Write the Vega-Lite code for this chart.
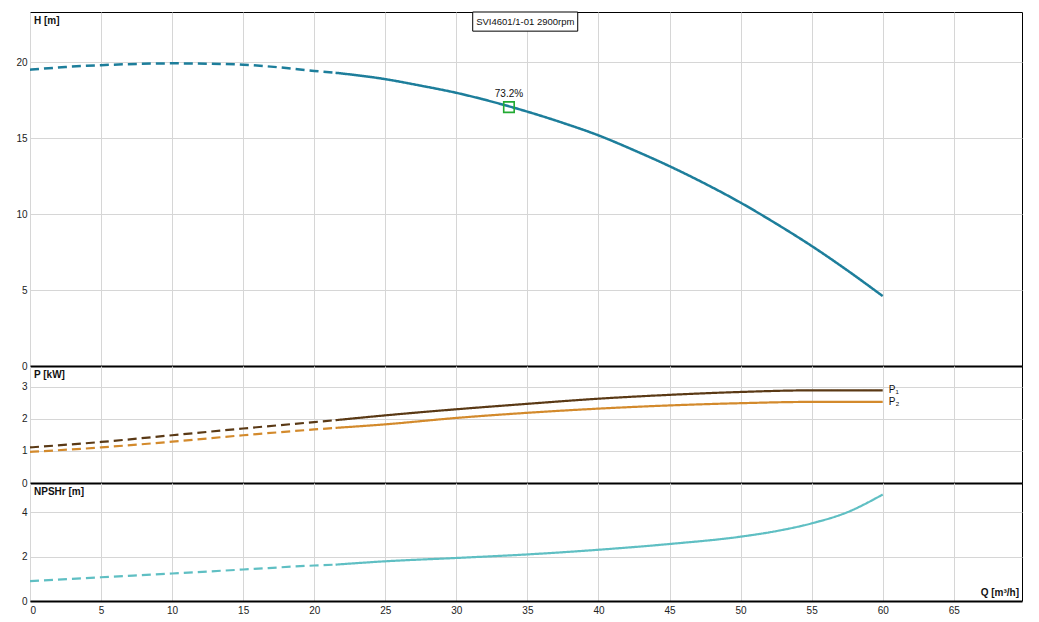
{
  "$schema": "https://vega.github.io/schema/vega-lite/v6.json",
  "background": "white",
  "padding": {"left": 15, "top": 11, "right": 17, "bottom": 5},
  "spacing": 0,
  "bounds": "flush",
  "config": {
    "font": "Liberation Sans",
    "view": {"stroke": "black", "strokeWidth": 1},
    "axis": {
      "gridColor": "#d6d6d6",
      "gridWidth": 1,
      "domainColor": "black",
      "labelFont": "Liberation Sans",
      "labelFontSize": 10,
      "labelColor": "#222222",
      "labelOverlap": false,
      "ticks": false,
      "title": null
    },
    "text": {"font": "Liberation Sans", "fontSize": 10, "color": "#111111"}
  },
  "datasets": {
    "head": [
      {"q": 0, "v": 19.5, "part": "dash"},
      {"q": 2.5, "v": 19.68, "part": "dash"},
      {"q": 5, "v": 19.8, "part": "dash"},
      {"q": 7.5, "v": 19.88, "part": "dash"},
      {"q": 10, "v": 19.92, "part": "dash"},
      {"q": 12.5, "v": 19.9, "part": "dash"},
      {"q": 15, "v": 19.83, "part": "dash"},
      {"q": 17.5, "v": 19.66, "part": "dash"},
      {"q": 20, "v": 19.42, "part": "dash"},
      {"q": 21.5, "v": 19.3, "part": "dash"},
      {"q": 21.5, "v": 19.3, "part": "solid"},
      {"q": 25, "v": 18.88, "part": "solid"},
      {"q": 27.5, "v": 18.45, "part": "solid"},
      {"q": 30, "v": 17.98, "part": "solid"},
      {"q": 32.5, "v": 17.4, "part": "solid"},
      {"q": 35, "v": 16.74, "part": "solid"},
      {"q": 37.5, "v": 16.0, "part": "solid"},
      {"q": 40, "v": 15.18, "part": "solid"},
      {"q": 42.5, "v": 14.2, "part": "solid"},
      {"q": 45, "v": 13.15, "part": "solid"},
      {"q": 47.5, "v": 12.0, "part": "solid"},
      {"q": 50, "v": 10.75, "part": "solid"},
      {"q": 52.5, "v": 9.37, "part": "solid"},
      {"q": 55, "v": 7.9, "part": "solid"},
      {"q": 57.5, "v": 6.3, "part": "solid"},
      {"q": 60, "v": 4.6, "part": "solid"}
    ],
    "power": [
      {"q": 0, "v": 1.11, "part": "dash", "s": "P1"},
      {"q": 5, "v": 1.28, "part": "dash", "s": "P1"},
      {"q": 10, "v": 1.49, "part": "dash", "s": "P1"},
      {"q": 15, "v": 1.7, "part": "dash", "s": "P1"},
      {"q": 20, "v": 1.9, "part": "dash", "s": "P1"},
      {"q": 21.5, "v": 1.96, "part": "dash", "s": "P1"},
      {"q": 21.5, "v": 1.96, "part": "solid", "s": "P1"},
      {"q": 25, "v": 2.11, "part": "solid", "s": "P1"},
      {"q": 30, "v": 2.3, "part": "solid", "s": "P1"},
      {"q": 35, "v": 2.47, "part": "solid", "s": "P1"},
      {"q": 40, "v": 2.63, "part": "solid", "s": "P1"},
      {"q": 45, "v": 2.75, "part": "solid", "s": "P1"},
      {"q": 50, "v": 2.84, "part": "solid", "s": "P1"},
      {"q": 55, "v": 2.89, "part": "solid", "s": "P1"},
      {"q": 60, "v": 2.89, "part": "solid", "s": "P1"},
      {"q": 0, "v": 0.97, "part": "dash", "s": "P2"},
      {"q": 5, "v": 1.11, "part": "dash", "s": "P2"},
      {"q": 10, "v": 1.29, "part": "dash", "s": "P2"},
      {"q": 15, "v": 1.49, "part": "dash", "s": "P2"},
      {"q": 20, "v": 1.67, "part": "dash", "s": "P2"},
      {"q": 21.5, "v": 1.72, "part": "dash", "s": "P2"},
      {"q": 21.5, "v": 1.72, "part": "solid", "s": "P2"},
      {"q": 25, "v": 1.83, "part": "solid", "s": "P2"},
      {"q": 30, "v": 2.03, "part": "solid", "s": "P2"},
      {"q": 35, "v": 2.19, "part": "solid", "s": "P2"},
      {"q": 40, "v": 2.32, "part": "solid", "s": "P2"},
      {"q": 45, "v": 2.42, "part": "solid", "s": "P2"},
      {"q": 50, "v": 2.49, "part": "solid", "s": "P2"},
      {"q": 55, "v": 2.53, "part": "solid", "s": "P2"},
      {"q": 60, "v": 2.53, "part": "solid", "s": "P2"}
    ],
    "npsh": [
      {"q": 0, "v": 0.9, "part": "dash"},
      {"q": 5, "v": 1.07, "part": "dash"},
      {"q": 10, "v": 1.24, "part": "dash"},
      {"q": 15, "v": 1.42, "part": "dash"},
      {"q": 20, "v": 1.6, "part": "dash"},
      {"q": 21.5, "v": 1.64, "part": "dash"},
      {"q": 21.5, "v": 1.64, "part": "solid"},
      {"q": 25, "v": 1.79, "part": "solid"},
      {"q": 30, "v": 1.94, "part": "solid"},
      {"q": 35, "v": 2.1, "part": "solid"},
      {"q": 40, "v": 2.31, "part": "solid"},
      {"q": 45, "v": 2.57, "part": "solid"},
      {"q": 50, "v": 2.9, "part": "solid"},
      {"q": 52.5, "v": 3.15, "part": "solid"},
      {"q": 55, "v": 3.5, "part": "solid"},
      {"q": 57.5, "v": 4.0, "part": "solid"},
      {"q": 60, "v": 4.8, "part": "solid"}
    ]
  },
  "vconcat": [
    {
      "width": 992,
      "height": 354,
      "layer": [
        {
          "data": {"name": "head"},
          "mark": {"type": "line", "strokeWidth": 2.5, "color": "#1d7e9b", "interpolate": "monotone"},
          "encoding": {
            "x": {
              "field": "q", "type": "quantitative",
              "scale": {"domain": [0, 69.8], "nice": false, "zero": false},
              "axis": {"values": [0, 5, 10, 15, 20, 25, 30, 35, 40, 45, 50, 55, 60, 65], "labels": false, "domainWidth": 2, "grid": true}
            },
            "y": {
              "field": "v", "type": "quantitative",
              "scale": {"domain": [0, 23.3], "nice": false},
              "axis": {"values": [0, 5, 10, 15, 20], "domain": false, "labelPadding": 3}
            },
            "strokeDash": {
              "field": "part", "type": "nominal",
              "scale": {"domain": ["dash", "solid"], "range": [[9, 5], [1, 0]]},
              "legend": null
            }
          }
        },
        {
          "data": {"values": [{"q": 33.7, "v": 17.04, "eff": "73.2%"}]},
          "mark": {"type": "point", "shape": "square", "filled": false, "color": "#22aa33", "size": 110, "strokeWidth": 1.6, "opacity": 1},
          "encoding": {
            "x": {"field": "q", "type": "quantitative"},
            "y": {"field": "v", "type": "quantitative"}
          }
        },
        {
          "data": {"values": [{"q": 33.7, "v": 17.04, "eff": "73.2%"}]},
          "mark": {"type": "text", "dy": -13, "fontSize": 10},
          "encoding": {
            "x": {"field": "q", "type": "quantitative"},
            "y": {"field": "v", "type": "quantitative"},
            "text": {"field": "eff"}
          }
        },
        {
          "data": {"values": [{"t": "SVI4601/1-01 2900rpm"}]},
          "mark": {"type": "rect", "fill": "white", "stroke": "black", "strokeWidth": 1},
          "encoding": {
            "x": {"datum": 31.15, "type": "quantitative"},
            "x2": {"datum": 38.54},
            "y": {"datum": 22.04, "type": "quantitative"},
            "y2": {"datum": 23.3}
          }
        },
        {
          "data": {"values": [{"t": "SVI4601/1-01 2900rpm"}]},
          "mark": {"type": "text", "fontSize": 9.5, "baseline": "middle"},
          "encoding": {
            "x": {"datum": 34.85, "type": "quantitative"},
            "y": {"datum": 22.67, "type": "quantitative"},
            "text": {"field": "t"}
          }
        },
        {
          "data": {"values": [{"t": "H [m]"}]},
          "mark": {"type": "text", "align": "left", "baseline": "top", "dx": 4, "dy": 4, "fontWeight": "bold", "fontSize": 10},
          "encoding": {
            "x": {"datum": 0, "type": "quantitative"},
            "y": {"datum": 23.3, "type": "quantitative"},
            "text": {"field": "t"}
          }
        }
      ]
    },
    {
      "width": 992,
      "height": 117,
      "layer": [
        {
          "data": {"name": "power"},
          "mark": {"type": "line", "strokeWidth": 2.2, "interpolate": "monotone"},
          "encoding": {
            "x": {
              "field": "q", "type": "quantitative",
              "scale": {"domain": [0, 69.8], "nice": false, "zero": false},
              "axis": {"values": [0, 5, 10, 15, 20, 25, 30, 35, 40, 45, 50, 55, 60, 65], "labels": false, "domainWidth": 2, "grid": true}
            },
            "y": {
              "field": "v", "type": "quantitative",
              "scale": {"domain": [0, 3.65], "nice": false},
              "axis": {"values": [0, 1, 2, 3], "tickCount": 4, "grid": true, "domain": false, "labelPadding": 3}
            },
            "color": {
              "field": "s", "type": "nominal",
              "scale": {"domain": ["P1", "P2"], "range": ["#5a3915", "#d38a2c"]},
              "legend": null
            },
            "strokeDash": {
              "field": "part", "type": "nominal",
              "scale": {"domain": ["dash", "solid"], "range": [[9, 5], [1, 0]]},
              "legend": null
            }
          }
        },
        {
          "data": {"values": [{"q": 60, "v": 2.89, "t": "P₁"}, {"q": 60, "v": 2.53, "t": "P₂"}]},
          "mark": {"type": "text", "align": "left", "baseline": "middle", "dx": 6, "fontSize": 10},
          "encoding": {
            "x": {"field": "q", "type": "quantitative"},
            "y": {"field": "v", "type": "quantitative"},
            "text": {"field": "t"}
          }
        },
        {
          "data": {"values": [{"t": "P [kW]"}]},
          "mark": {"type": "text", "align": "left", "baseline": "top", "dx": 4, "dy": 4, "fontWeight": "bold", "fontSize": 10},
          "encoding": {
            "x": {"datum": 0, "type": "quantitative"},
            "y": {"datum": 3.65, "type": "quantitative"},
            "text": {"field": "t"}
          }
        }
      ]
    },
    {
      "width": 992,
      "height": 118,
      "layer": [
        {
          "data": {"name": "npsh"},
          "mark": {"type": "line", "strokeWidth": 2.2, "color": "#5fbfc3", "interpolate": "monotone"},
          "encoding": {
            "x": {
              "field": "q", "type": "quantitative",
              "scale": {"domain": [0, 69.8], "nice": false, "zero": false},
              "axis": {"values": [0, 5, 10, 15, 20, 25, 30, 35, 40, 45, 50, 55, 60, 65], "domainWidth": 2, "grid": true, "labelPadding": 4, "labelFontSize": 10}
            },
            "y": {
              "field": "v", "type": "quantitative",
              "scale": {"domain": [0, 5.32], "nice": false},
              "axis": {"values": [0, 2, 4], "domain": false, "labelPadding": 3}
            },
            "strokeDash": {
              "field": "part", "type": "nominal",
              "scale": {"domain": ["dash", "solid"], "range": [[9, 5], [1, 0]]},
              "legend": null
            }
          }
        },
        {
          "data": {"values": [{"t": "NPSHr [m]"}]},
          "mark": {"type": "text", "align": "left", "baseline": "top", "dx": 4, "dy": 4, "fontWeight": "bold", "fontSize": 10},
          "encoding": {
            "x": {"datum": 0, "type": "quantitative"},
            "y": {"datum": 5.32, "type": "quantitative"},
            "text": {"field": "t"}
          }
        },
        {
          "data": {"values": [{"t": "Q [m³/h]"}]},
          "mark": {"type": "text", "align": "right", "baseline": "bottom", "dx": -3, "dy": -3, "fontWeight": "bold", "fontSize": 10},
          "encoding": {
            "x": {"datum": 69.8, "type": "quantitative"},
            "y": {"datum": 0, "type": "quantitative"},
            "text": {"field": "t"}
          }
        }
      ]
    }
  ]
}
